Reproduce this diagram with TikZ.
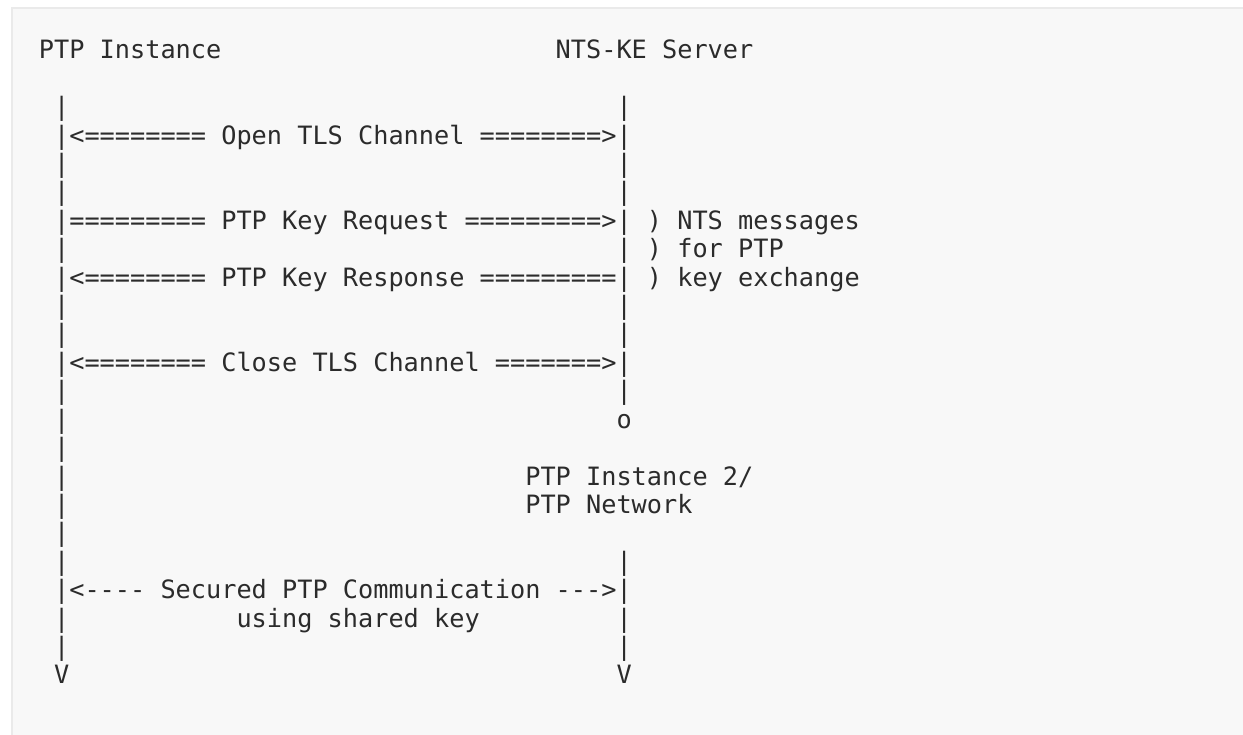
\documentclass[tikz,border=0pt]{standalone}
\usepackage{fontspec}
\setmonofont{DejaVu Sans Mono}
\definecolor{artbg}{HTML}{F8F8F8}
\definecolor{artrule}{HTML}{EAEAEA}
\definecolor{artink}{HTML}{2B2B2B}
\tikzset{
  art/.style={anchor=base west, inner sep=0pt, outer sep=0pt, text=artink,
    font=\ttfamily\fontsize{25.25}{28}\selectfont},
}
% one line of the character drawing: name, column, row, text
\newcommand\artline[4]{\node[art] (#1) at ({38.9+15.2*#2},{59+28.4*#3}) {#4};}
\begin{document}
\begin{tikzpicture}[x=1pt,y=-1pt]
\useasboundingbox (0,0) rectangle (1243,735);
\fill[artbg] (12,8) rectangle (1243,735);
\draw[artrule, line width=2pt] (12,735) -- (12,8) -- (1243,8);

\artline{client}{0}{0}{PTP Instance}
\artline{server}{34}{0}{NTS-KE Server}

\artline{l2}{1}{2}{|}
\artline{r2}{38}{2}{|}
\artline{open}{1}{3}{|<======== Open TLS Channel ========>|}
\artline{l4}{1}{4}{|}
\artline{r4}{38}{4}{|}
\artline{l5}{1}{5}{|}
\artline{r5}{38}{5}{|}
\artline{req}{1}{6}{|========= PTP Key Request =========>| ) NTS messages}
\artline{l7}{1}{7}{|}
\artline{r7}{38}{7}{| ) for PTP}
\artline{resp}{1}{8}{|<======== PTP Key Response =========| ) key exchange}
\artline{l9}{1}{9}{|}
\artline{r9}{38}{9}{|}
\artline{l10}{1}{10}{|}
\artline{r10}{38}{10}{|}
\artline{close}{1}{11}{|<======== Close TLS Channel =======>|}
\artline{l12}{1}{12}{|}
\artline{r12}{38}{12}{|}
\artline{l13}{1}{13}{|}
\artline{end}{38}{13}{o}
\artline{l14}{1}{14}{|}
\artline{l15}{1}{15}{|}
\artline{peer}{32}{15}{PTP Instance 2/}
\artline{l16}{1}{16}{|}
\artline{net}{32}{16}{PTP Network}
\artline{l17}{1}{17}{|}
\artline{l18}{1}{18}{|}
\artline{r18}{38}{18}{|}
\artline{sec}{1}{19}{|<---- Secured PTP Communication --->|}
\artline{l20}{1}{20}{|}
\artline{key}{13}{20}{using shared key}
\artline{r20}{38}{20}{|}
\artline{l21}{1}{21}{|}
\artline{r21}{38}{21}{|}
\artline{lv}{1}{22}{V}
\artline{rv}{38}{22}{V}
\end{tikzpicture}
\end{document}
